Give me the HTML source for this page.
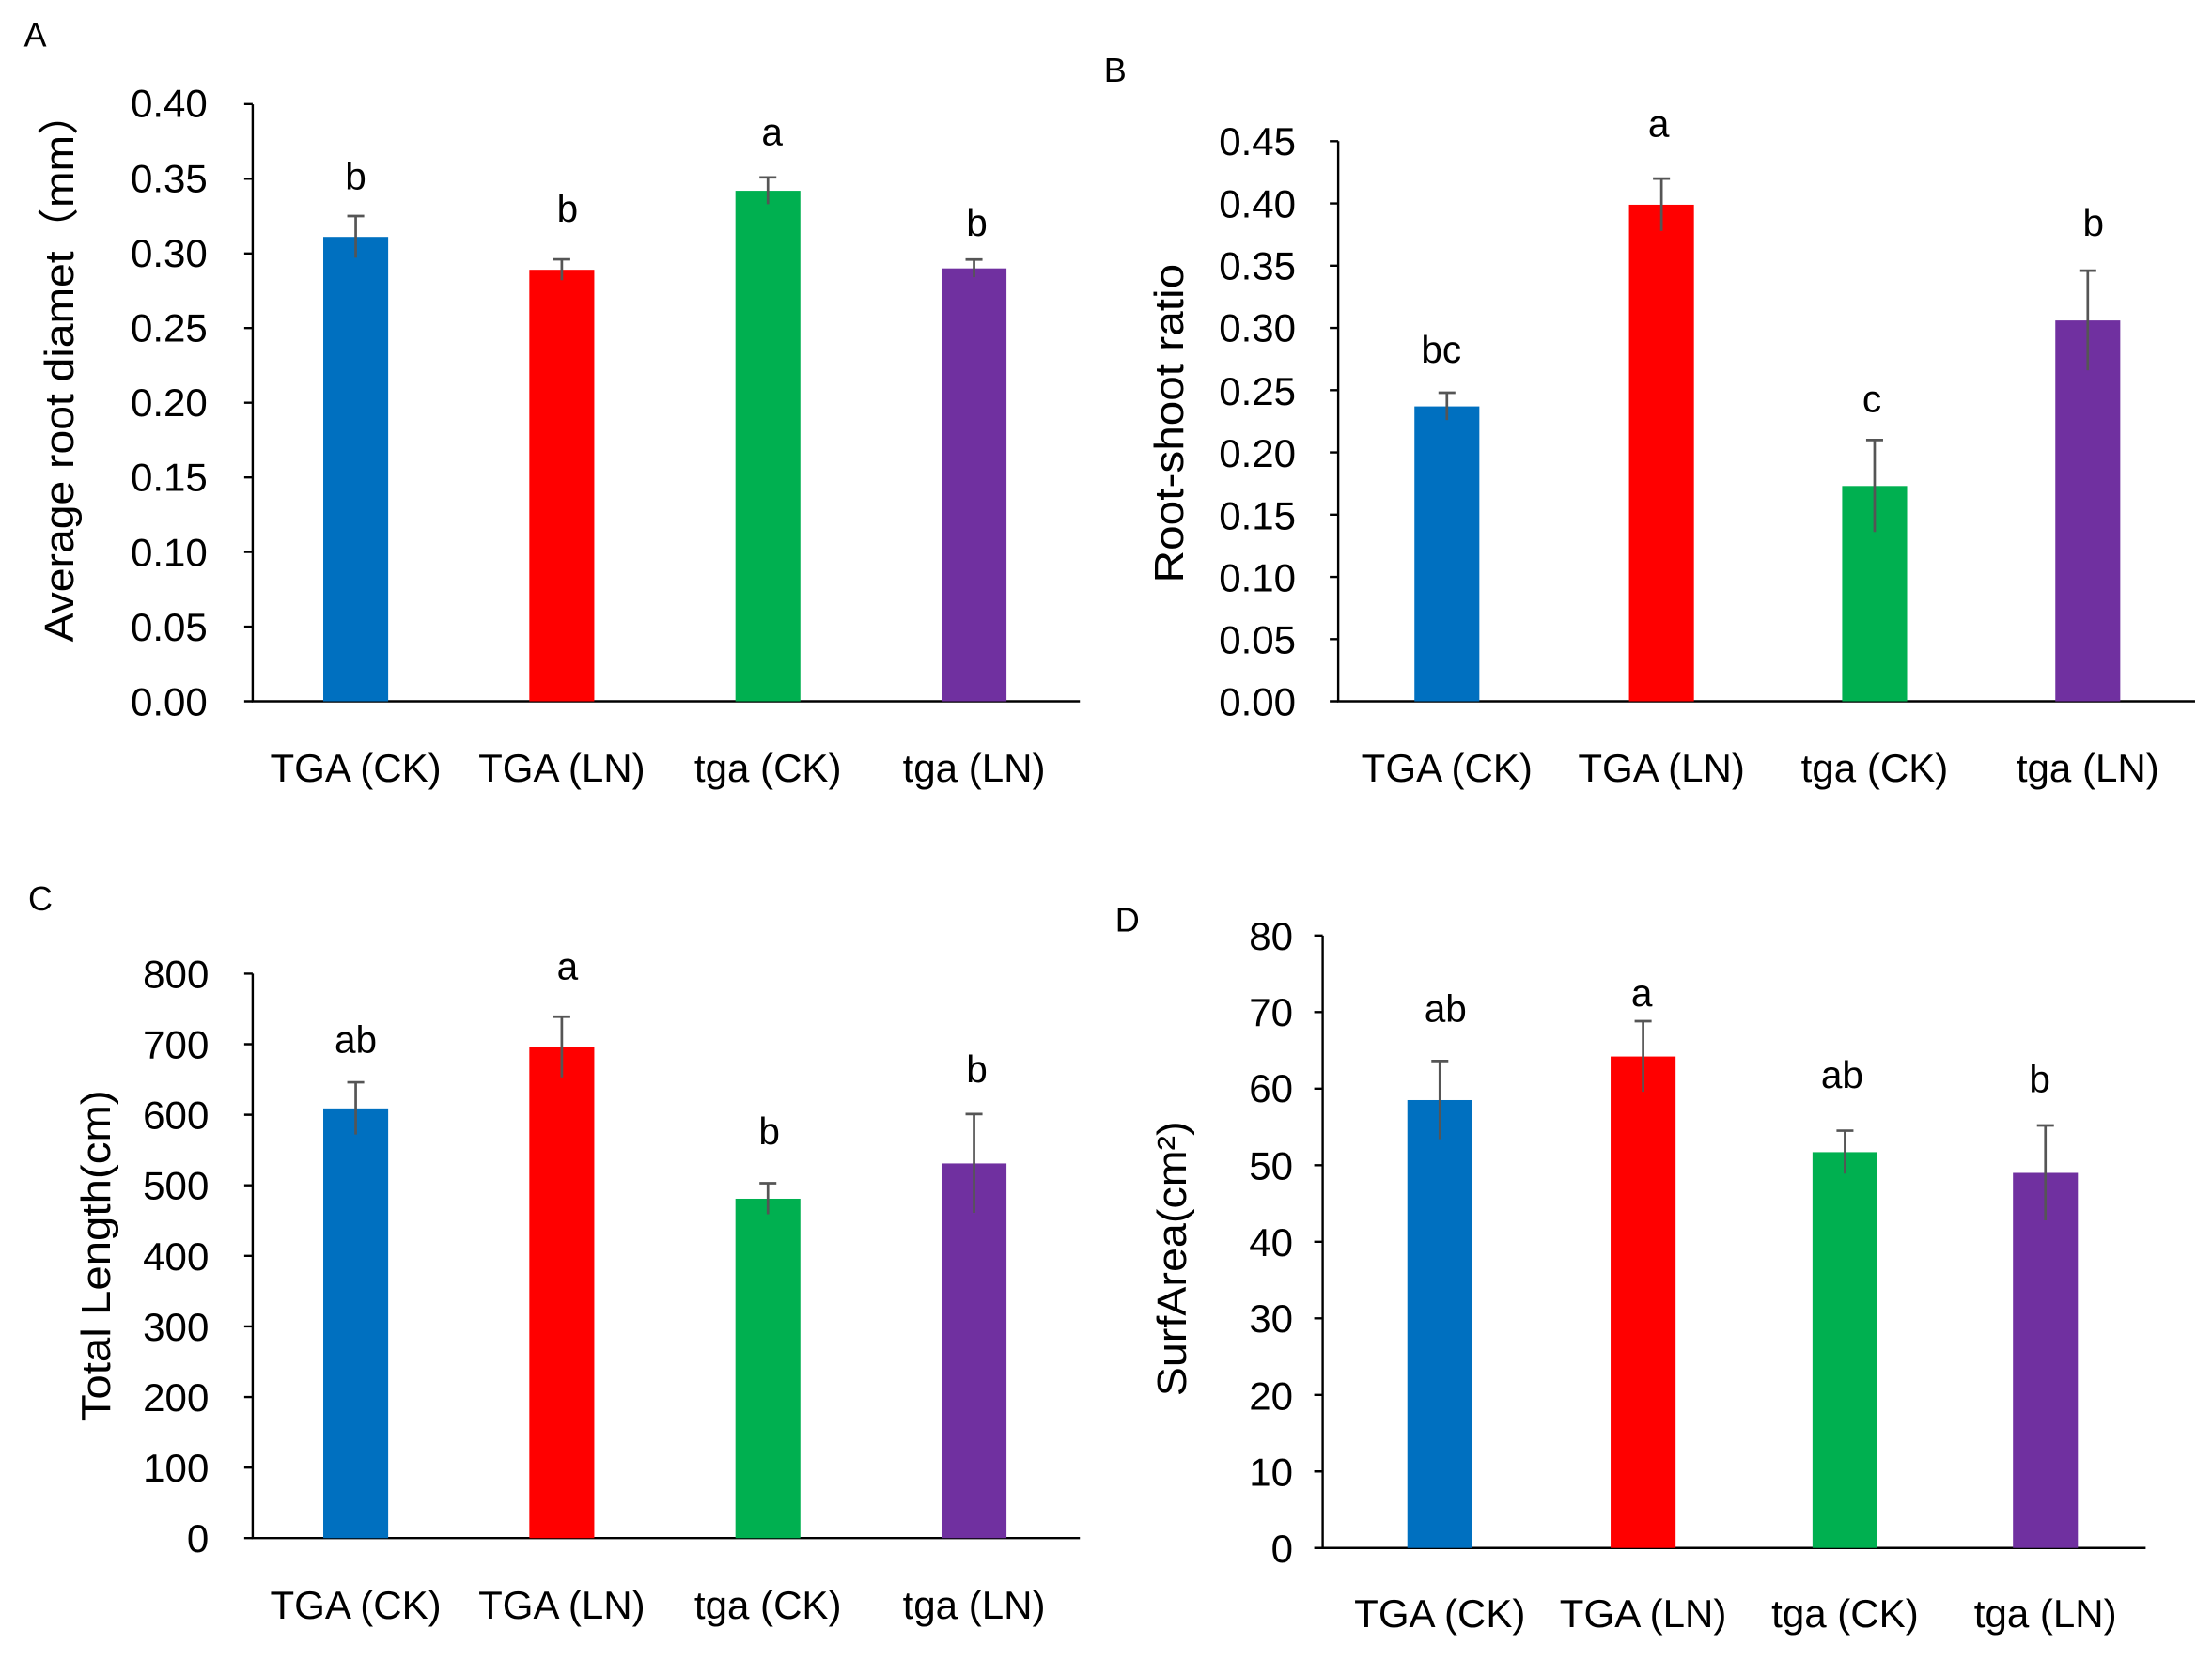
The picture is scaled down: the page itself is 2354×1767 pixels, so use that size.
<!DOCTYPE html>
<html><head><meta charset="utf-8"><style>
html,body{margin:0;padding:0;background:#fff;}
svg{display:block;}
text{font-family:"Liberation Sans","Noto Sans CJK SC",sans-serif;fill:#000;}
.t{font-size:28px;text-anchor:end;}
.c{font-size:28px;text-anchor:middle;}
.l{font-size:27px;text-anchor:middle;}
.y{font-size:29px;text-anchor:middle;}
.p{font-size:24px;}
.ax{stroke:#000;stroke-width:1.6;fill:none;}
.e{stroke:#555;stroke-width:1.8;fill:none;}
</style></head><body>
<svg width="2354" height="1767" viewBox="0 0 1567 1176.4" preserveAspectRatio="none">
<rect width="1567" height="1177" fill="#fff"/>

<!-- Panel A -->
<text class="p" x="17" y="33">A</text>
<text class="y" transform="translate(52,260) rotate(-90)" textLength="390" lengthAdjust="spacingAndGlyphs">Average root diamet（mm）</text>
<g class="ax"><path d="M179,74V497H765"/>
<path d="M173,497H179M173,444.1H179M173,391.2H179M173,338.3H179M173,285.4H179M173,232.5H179M173,179.6H179M173,126.7H179M173,73.8H179"/></g>
<g class="t"><text x="147" y="507">0.00</text><text x="147" y="454">0.05</text><text x="147" y="401">0.10</text><text x="147" y="348">0.15</text><text x="147" y="295">0.20</text><text x="147" y="242">0.25</text><text x="147" y="189">0.30</text><text x="147" y="136">0.35</text><text x="147" y="83">0.40</text></g>
<rect x="229" y="167.9" width="46" height="329.1" fill="#0070C0"/>
<rect x="375" y="191.2" width="46" height="305.8" fill="#FF0000"/>
<rect x="521" y="135.2" width="46" height="361.8" fill="#00B050"/>
<rect x="667" y="190.2" width="46" height="306.8" fill="#7030A0"/>
<g class="e"><path d="M252,153.1V182.7M246,153.1H258"/><path d="M398,183.8V198.6M392,183.8H404"/><path d="M544,125.7V144.7M538,125.7H550"/><path d="M690,183.9V196.5M684,183.9H696"/></g>
<g class="l"><text x="252" y="134">b</text><text x="402" y="157">b</text><text x="547" y="103">a</text><text x="692" y="167">b</text></g>
<g class="c"><text x="252" y="554">TGA (CK)</text><text x="398" y="554">TGA (LN)</text><text x="544" y="554">tga (CK)</text><text x="690" y="554">tga (LN)</text></g>

<!-- Panel B -->
<text class="p" x="782" y="58">B</text>
<text class="y" transform="translate(838,300) rotate(-90)" textLength="226" lengthAdjust="spacingAndGlyphs">Root-shoot ratio</text>
<g class="ax"><path d="M948,100V497H1555"/>
<path d="M942,497H948M942,452.9H948M942,408.8H948M942,364.7H948M942,320.6H948M942,276.5H948M942,232.4H948M942,188.3H948M942,144.2H948M942,100.1H948"/></g>
<g class="t"><text x="918" y="507">0.00</text><text x="918" y="463">0.05</text><text x="918" y="419">0.10</text><text x="918" y="375">0.15</text><text x="918" y="331">0.20</text><text x="918" y="287">0.25</text><text x="918" y="242">0.30</text><text x="918" y="198">0.35</text><text x="918" y="154">0.40</text><text x="918" y="110">0.45</text></g>
<rect x="1002" y="288" width="46" height="209" fill="#0070C0"/>
<rect x="1154" y="145.1" width="46" height="351.9" fill="#FF0000"/>
<rect x="1305" y="344.4" width="46" height="152.6" fill="#00B050"/>
<rect x="1456" y="227.1" width="46" height="269.9" fill="#7030A0"/>
<g class="e"><path d="M1025,278.3V297.7M1019,278.3H1031"/><path d="M1177,126.6V163.6M1171,126.6H1183"/><path d="M1328,311.8V377M1322,311.8H1334"/><path d="M1479,191.8V262.4M1473,191.8H1485"/></g>
<g class="l"><text x="1021" y="257">bc</text><text x="1175" y="97">a</text><text x="1326" y="292">c</text><text x="1483" y="167">b</text></g>
<g class="c"><text x="1025" y="554">TGA (CK)</text><text x="1177" y="554">TGA (LN)</text><text x="1328" y="554">tga (CK)</text><text x="1479" y="554">tga (LN)</text></g>

<!-- Panel C -->
<text class="p" x="20" y="645">C</text>
<text class="y" transform="translate(78,890) rotate(-90)" textLength="235" lengthAdjust="spacingAndGlyphs">Total Length(cm)</text>
<g class="ax"><path d="M179,690V1090H765"/>
<path d="M173,1090H179M173,1040H179M173,990H179M173,940H179M173,890H179M173,840H179M173,790H179M173,740H179M173,690H179"/></g>
<g class="t"><text x="148" y="1100">0</text><text x="148" y="1050">100</text><text x="148" y="1000">200</text><text x="148" y="950">300</text><text x="148" y="900">400</text><text x="148" y="850">500</text><text x="148" y="800">600</text><text x="148" y="750">700</text><text x="148" y="700">800</text></g>
<rect x="229" y="785.5" width="46" height="304.5" fill="#0070C0"/>
<rect x="375" y="742" width="46" height="348" fill="#FF0000"/>
<rect x="521" y="849.5" width="46" height="240.5" fill="#00B050"/>
<rect x="667" y="824.5" width="46" height="265.5" fill="#7030A0"/>
<g class="e"><path d="M252,767V804M246,767H258"/><path d="M398,720.5V763.5M392,720.5H404"/><path d="M544,838.5V860.5M538,838.5H550"/><path d="M690,789.5V859.5M684,789.5H696"/></g>
<g class="l"><text x="252" y="746">ab</text><text x="402" y="694">a</text><text x="545" y="811">b</text><text x="692" y="767">b</text></g>
<g class="c"><text x="252" y="1147">TGA (CK)</text><text x="398" y="1147">TGA (LN)</text><text x="544" y="1147">tga (CK)</text><text x="690" y="1147">tga (LN)</text></g>

<!-- Panel D -->
<text class="p" x="790" y="660">D</text>
<text class="y" transform="translate(840,892) rotate(-90)" textLength="195" lengthAdjust="spacingAndGlyphs">SurfArea(cm²)</text>
<g class="ax"><path d="M937,663V1097H1520"/>
<path d="M931,1097H937M931,1042.75H937M931,988.5H937M931,934.25H937M931,880H937M931,825.75H937M931,771.5H937M931,717.25H937M931,663H937"/></g>
<g class="t"><text x="916" y="1107">0</text><text x="916" y="1053">10</text><text x="916" y="999">20</text><text x="916" y="944">30</text><text x="916" y="890">40</text><text x="916" y="836">50</text><text x="916" y="781">60</text><text x="916" y="727">70</text><text x="916" y="673">80</text></g>
<rect x="997" y="779.6" width="46" height="317.4" fill="#0070C0"/>
<rect x="1141" y="748.7" width="46" height="348.3" fill="#FF0000"/>
<rect x="1284" y="816.5" width="46" height="280.5" fill="#00B050"/>
<rect x="1426" y="831.2" width="46" height="265.8" fill="#7030A0"/>
<g class="e"><path d="M1020,751.9V807.3M1014,751.9H1026"/><path d="M1164,723.7V773.7M1158,723.7H1170"/><path d="M1307,801.3V831.7M1301,801.3H1313"/><path d="M1449,797.6V864.8M1443,797.6H1455"/></g>
<g class="l"><text x="1024" y="724">ab</text><text x="1163" y="713">a</text><text x="1305" y="771">ab</text><text x="1445" y="774">b</text></g>
<g class="c"><text x="1020" y="1153">TGA (CK)</text><text x="1164" y="1153">TGA (LN)</text><text x="1307" y="1153">tga (CK)</text><text x="1449" y="1153">tga (LN)</text></g>
</svg>
</body></html>
